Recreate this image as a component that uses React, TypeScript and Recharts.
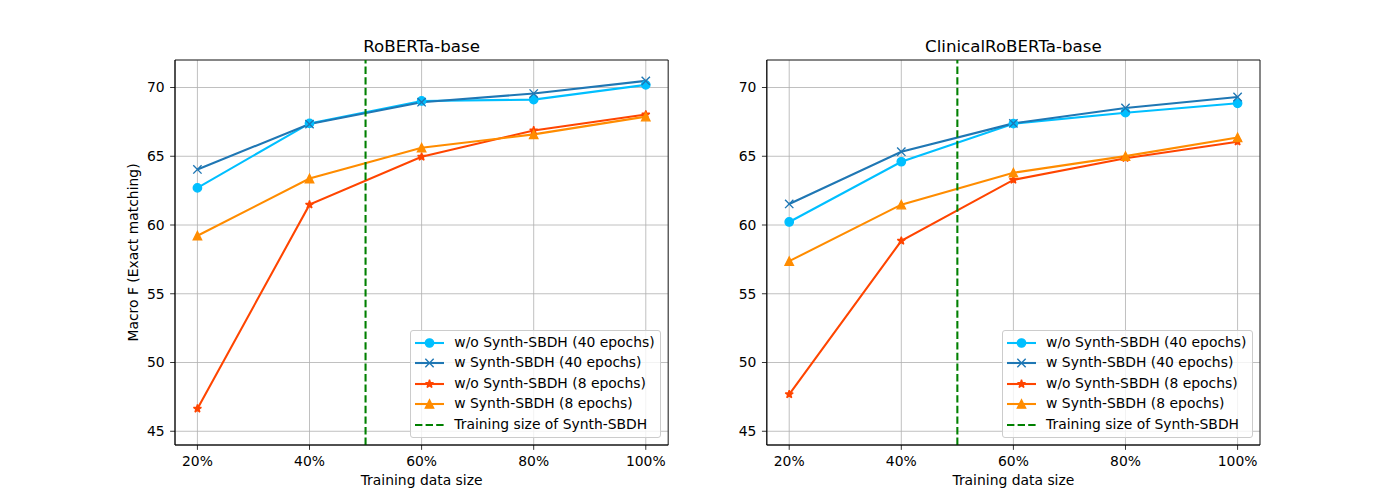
import React from 'react';
import { LineChart, Line, XAxis, YAxis, CartesianGrid, ReferenceLine, ReferenceArea } from 'recharts';

// ---------- data ----------
const categories = ['20%', '40%', '60%', '80%', '100%'];
const seriesNames = [
  'w/o Synth-SBDH (40 epochs)',
  'w Synth-SBDH (40 epochs)',
  'w/o Synth-SBDH (8 epochs)',
  'w Synth-SBDH (8 epochs)',
];
const refLineName = 'Training size of Synth-SBDH';
const refLineX = 1.5; // 50% training size (between 40% and 60%)
const yTicks = [45, 50, 55, 60, 65, 70];
const yDomain: [number, number] = [44, 72];
const xDomain: [number, number] = [-0.2, 4.2];
const chartTitles = ['RoBERTa-base', 'ClinicalRoBERTa-base'];
const xLabel = 'Training data size';
const yLabel = 'Macro F (Exact matching)';

const robertaWo40 = [62.7, 67.39, 69.02, 69.12, 70.19];
const robertaW40 = [64.04, 67.34, 68.93, 69.56, 70.48];
const robertaWo8 = [46.64, 61.48, 64.96, 66.88, 68.03];
const robertaW8 = [59.22, 63.38, 65.62, 66.59, 67.88];

const clinicalWo40 = [60.22, 64.6, 67.37, 68.17, 68.85];
const clinicalW40 = [61.53, 65.33, 67.39, 68.51, 69.31];
const clinicalWo8 = [47.69, 58.85, 63.28, 64.86, 66.06];
const clinicalW8 = [57.37, 61.48, 63.8, 65.01, 66.37];

// ---------- styles ----------
const colors = ['#00BFFF', '#1f77b4', '#FF4500', '#FF8C00'];
const shapes = ['circle', 'x', 'star', 'triangle'];
const refColor = '#008000';
const FONT = 'DejaVu Sans, sans-serif';
const LW = 2.08;
const MR = 4.17;

const buildRows = (series: number[][]) =>
  categories.map((c, i) => {
    const row: any = { x: i, label: c };
    series.forEach((s, k) => {
      row['s' + k] = s[i];
    });
    return row;
  });

const starPath = (cx: number, cy: number, R: number) => {
  const r = R * 0.381966;
  const pts: string[] = [];
  for (let i = 0; i < 10; i++) {
    const ang = -Math.PI / 2 + (i * Math.PI) / 5;
    const rad = i % 2 === 0 ? R : r;
    pts.push(`${cx + rad * Math.cos(ang)},${cy + rad * Math.sin(ang)}`);
  }
  return 'M' + pts.join('L') + 'Z';
};

const Marker = ({ shape, color, cx, cy }: { shape: string; color: string; cx: number; cy: number }) => {
  if (shape === 'circle') {
    return <circle cx={cx} cy={cy} r={MR} fill={color} stroke={color} strokeWidth={1.39} />;
  }
  if (shape === 'x') {
    return (
      <path
        d={`M${cx - MR},${cy - MR}L${cx + MR},${cy + MR}M${cx - MR},${cy + MR}L${cx + MR},${cy - MR}`}
        stroke={color}
        strokeWidth={1.39}
        fill="none"
      />
    );
  }
  if (shape === 'star') {
    return <path d={starPath(cx, cy, MR)} fill={color} stroke={color} strokeWidth={1.39} strokeLinejoin="bevel" />;
  }
  return (
    <path
      d={`M${cx},${cy - MR}L${cx - MR},${cy + MR}L${cx + MR},${cy + MR}Z`}
      fill={color}
      stroke={color}
      strokeWidth={1.39}
    />
  );
};

const makeDot = (shape: string, color: string) => (props: any) => {
  const { cx, cy, index } = props;
  if (cx == null || cy == null) return <g key={'e' + index} />;
  return (
    <g key={shape + index}>
      <Marker shape={shape} color={color} cx={cx} cy={cy} />
    </g>
  );
};

const Legend = ({ right, bottom }: { right: number; bottom: number }) => (
  <div
    style={{
      position: 'absolute',
      right,
      bottom,
      background: 'rgba(255,255,255,0.8)',
      border: '1px solid #cccccc',
      borderRadius: 3,
      padding: '5px 5.5px 5px 4.5px',
      fontFamily: FONT,
      fontSize: 13.9,
      lineHeight: '13.9px',
      color: '#000',
      boxSizing: 'border-box',
    }}
  >
    {seriesNames.map((n, k) => (
      <div key={n} style={{ display: 'flex', alignItems: 'center', height: 13.9, marginBottom: 6.75, whiteSpace: 'nowrap' }}>
        <svg width={29} height={14} style={{ marginRight: 10, flex: 'none' }}>
          <line x1={0} y1={7} x2={29} y2={7} stroke={colors[k]} strokeWidth={LW} />
          <Marker shape={shapes[k]} color={colors[k]} cx={14.5} cy={7} />
        </svg>
        <span>{n}</span>
      </div>
    ))}
    <div style={{ display: 'flex', alignItems: 'center', height: 13.9, whiteSpace: 'nowrap' }}>
      <svg width={29} height={14} style={{ marginRight: 10, flex: 'none' }}>
        <line x1={0} y1={7} x2={29} y2={7} stroke={refColor} strokeWidth={2.08} strokeDasharray="7.4 3.2" />
      </svg>
      <span>{refLineName}</span>
    </div>
  </div>
);

const Panel = ({
  series,
  yAxisWidth,
  marginRight,
}: {
  series: number[][];
  yAxisWidth: number;
  marginRight: number;
}) => {
  const rows = buildRows(series);
  return (
    <LineChart width={700} height={500} data={rows} margin={{ top: 60, right: marginRight, bottom: 0, left: 0 }}>
      <CartesianGrid stroke="#b0b0b0" strokeWidth={0.8} />
      <XAxis
        dataKey="x"
        type="number"
        domain={xDomain}
        ticks={[0, 1, 2, 3, 4]}
        allowDataOverflow
        tickFormatter={(v: number) => categories[v] ?? ''}
        height={55}
        tickSize={4.86}
        tickMargin={6.2}
        stroke="#000"
        tick={{ fill: '#000', fontSize: 13.9, fontFamily: FONT }}
        axisLine={{ stroke: '#000', strokeWidth: 0.8 }}
        tickLine={{ stroke: '#000', strokeWidth: 0.8 }}
        interval={0}
      />
      <YAxis
        type="number"
        domain={yDomain}
        ticks={yTicks}
        allowDataOverflow
        width={yAxisWidth}
        tickSize={4.86}
        tickMargin={5.5}
        stroke="#000"
        tick={{ fill: '#000', fontSize: 13.9, fontFamily: FONT }}
        axisLine={{ stroke: '#000', strokeWidth: 0.8 }}
        tickLine={{ stroke: '#000', strokeWidth: 0.8 }}
        interval={0}
      />
      <ReferenceArea x1={xDomain[0]} x2={xDomain[1]} y1={yDomain[0]} y2={yDomain[1]} fill="none" stroke="#000" strokeWidth={0.8} fillOpacity={0} />
      {series.map((_, k) => (
        <Line
          key={k}
          type="linear"
          dataKey={'s' + k}
          stroke={colors[k]}
          strokeWidth={LW}
          dot={makeDot(shapes[k], colors[k])}
          activeDot={false}
          isAnimationActive={false}
        />
      ))}
      <ReferenceLine x={refLineX} stroke={refColor} strokeWidth={2.08} strokeDasharray="7.4 3.2" />
    </LineChart>
  );
};

export default function App() {
  return (
    <div style={{ position: 'absolute', left: 0, top: 0, width: 1400, height: 500, background: '#fff', overflow: 'hidden' }}>
      <div style={{ position: 'absolute', left: 0, top: 0 }}>
        <Panel series={[robertaWo40, robertaW40, robertaWo8, robertaW8]} yAxisWidth={175} marginRight={31.8} />
      </div>
      <div style={{ position: 'absolute', left: 700, top: 0 }}>
        <Panel series={[clinicalWo40, clinicalW40, clinicalWo8, clinicalW8]} yAxisWidth={66.8} marginRight={140} />
      </div>
      <Legend right={1400 - 661.2} bottom={500 - 438} />
      <Legend right={1400 - 1253} bottom={500 - 438} />
      <svg width={1400} height={500} style={{ position: 'absolute', left: 0, top: 0, pointerEvents: 'none' }}>
        <text x={421.6} y={52} textAnchor="middle" fontSize={16.67} fontFamily={FONT} fill="#000">
          {chartTitles[0]}
        </text>
        <text x={1013.4} y={52} textAnchor="middle" fontSize={16.67} fontFamily={FONT} fill="#000">
          {chartTitles[1]}
        </text>
        <text x={421.6} y={484.5} textAnchor="middle" fontSize={13.9} fontFamily={FONT} fill="#000">
          {xLabel}
        </text>
        <text x={1013.4} y={484.5} textAnchor="middle" fontSize={13.9} fontFamily={FONT} fill="#000">
          {xLabel}
        </text>
        <text
          x={138}
          y={252.5}
          textAnchor="middle"
          fontSize={13.9}
          fontFamily={FONT}
          fill="#000"
          transform="rotate(-90 138 252.5)"
        >
          {yLabel}
        </text>
      </svg>
    </div>
  );
}
